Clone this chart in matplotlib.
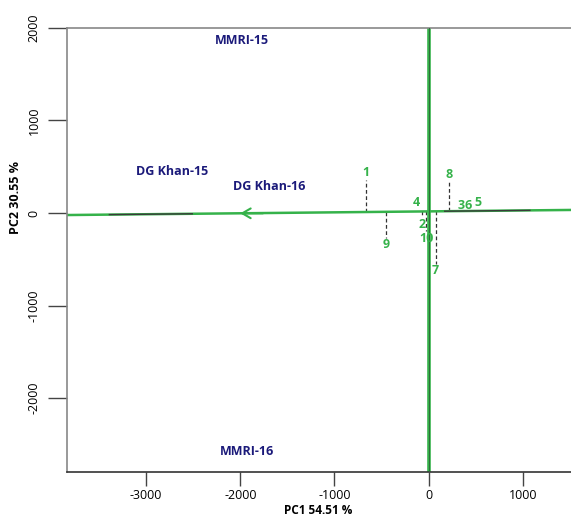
import matplotlib.pyplot as plt

plt.rcParams['font.family'] = ['Open Sans', 'DejaVu Sans']
plt.rcParams['axes.unicode_minus'] = False

# environment labels (blue)
env_names = ['MMRI-15', 'DG Khan-15', 'DG Khan-16', 'MMRI-16']
env_x = [-1980, -2720, -1690, -1930]
env_y = [1860, 450, 285, -2580]

# genotype labels (green)
geno_names = ['1', '2', '3', '4', '5', '6', '7', '8', '9', '10']
geno_x = [-663, -67, 348, -131, 525, 418, 74, 216, -450, -24]
geno_y = [435, -120, 84, 109, 116, 84, -627, 416, -345, -272]

# average environment axis and its perpendicular
aec_x = [-3840, 1511]
aec_y = [-22, 33]
arrow_x = -2030

green = '#35b24a'
navy = '#1b1a7a'

fig = plt.figure(figsize=(5.71, 5.15), dpi=100)
ax = fig.add_axes([67 / 571, 43 / 515, 1 - 67 / 571, 444 / 515])

ax.set_xlim(-3840, 1511)
ax.set_ylim(-2800, 2000)

# AEC abscissa
ax.plot(aec_x, aec_y, color=green, lw=1.8, zorder=2, solid_capstyle='butt')
slope = (aec_y[1] - aec_y[0]) / (aec_x[1] - aec_x[0])
for x0, x1 in [(-3390, -2510), (170, 1075)]:
    ax.plot([x0, x1], [aec_y[0] + slope * (x0 - aec_x[0]), aec_y[0] + slope * (x1 - aec_x[0])],
            color='#3a3a3a', lw=1.0, zorder=3)
ay = aec_y[0] + slope * (arrow_x - aec_x[0])
ax.annotate('', xy=(arrow_x, ay), xytext=(arrow_x + 300, ay),
            arrowprops=dict(arrowstyle='->,head_length=0.6,head_width=0.35',
                            color=green, lw=1.5), zorder=4)

# AEC ordinate
ax.axvline(0, color=green, lw=2.6, zorder=2)
ax.axvline(0, color='#2f6b3a', lw=0.7, zorder=3)

# projections of genotypes onto the AEC
for gx, gy in zip(geno_x, geno_y):
    base = aec_y[0] + slope * (gx - aec_x[0])
    end = gy - 75 if gy > 0 else gy + 75
    if abs(end - base) > 20:
        ax.plot([gx, gx], [base, end], color='#333333', lw=0.9,
                ls=(0, (3, 2)), zorder=1)

for name, gx, gy in zip(geno_names, geno_x, geno_y):
    ax.text(gx, gy, name, color=green, fontsize=9, fontweight='bold',
            ha='center', va='center', zorder=5)

for name, ex, ey in zip(env_names, env_x, env_y):
    ax.text(ex, ey, name, color=navy, fontsize=9, fontweight='bold',
            ha='center', va='center', zorder=5)

ax.set_xticks([-3000, -2000, -1000, 0, 1000])
ax.set_yticks([-2000, -1000, 0, 1000, 2000])
ax.tick_params(axis='x', length=10, width=1, color='#444444', labelsize=9, pad=2)
ax.tick_params(axis='y', length=14, width=1, color='#444444', labelsize=9, pad=5,
               labelrotation=90)
for lab in ax.get_yticklabels():
    lab.set_va('center')

ax.spines['right'].set_visible(False)
ax.spines['top'].set_color('#888888')
ax.spines['left'].set_color('#888888')
ax.spines['bottom'].set_color('#333333')
for s in ax.spines.values():
    s.set_linewidth(1.2)

fig.text(318 / 571, 1 - 510 / 515, 'PC1 54.51 %', fontsize=8.5, fontweight='bold',
         ha='center', va='center')
fig.text(16 / 571, 1 - 198 / 515, 'PC2 30.55 %', fontsize=9, fontweight='bold',
         ha='center', va='center', rotation=90)

fig.savefig('out.png', dpi=100)
